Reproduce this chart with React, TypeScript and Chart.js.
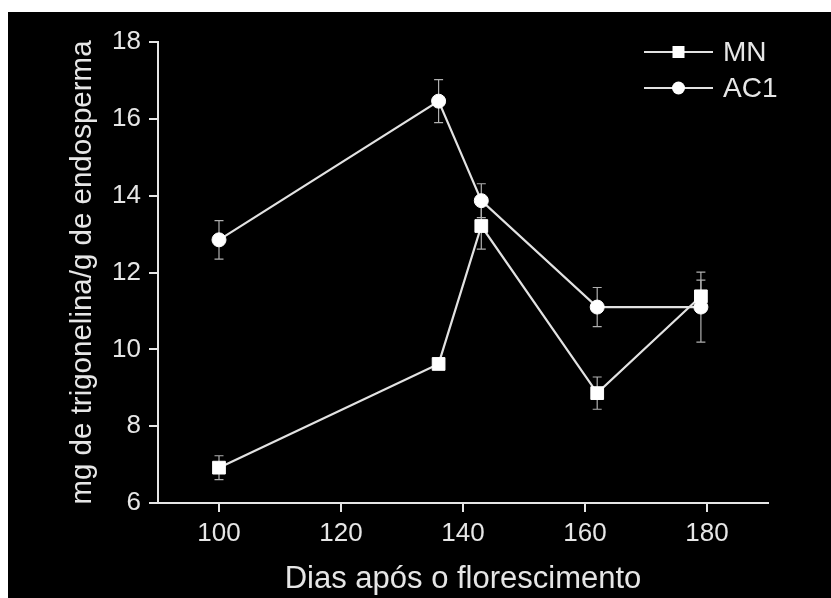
import React, { useEffect, useRef } from "react";
import { Chart, registerables } from "chart.js";

Chart.register(...registerables);

// ---- data ----
const days = [100, 136, 143, 162, 179];
const mnValues = [6.92, 9.62, 13.21, 8.86, 11.38];
const mnErrors = [0.31, 0.1, 0.6, 0.42, 0.42];
const ac1Values = [12.85, 16.46, 13.87, 11.1, 11.1];
const ac1Errors = [0.5, 0.56, 0.44, 0.51, 0.91];
const xTicks = [100, 120, 140, 160, 180];
const yTicks = [6, 8, 10, 12, 14, 16, 18];
const seriesNames = ["MN", "AC1"];
const xTitle = "Dias após o florescimento";
const yTitle = "mg de trigonelina/g de endosperma";

const FONT = "'Liberation Sans', Arial, sans-serif";
const FG = "#e6e6e6";
const LINE = "#e2e2e2";
const ERR = "#b0b0b0";

const errorsByDataset = [mnErrors, ac1Errors];
const valuesByDataset = [mnValues, ac1Values];

const customPlugin = {
  id: "custom",
  beforeDraw(chart: any) {
    const { ctx, width, height } = chart;
    ctx.save();
    ctx.fillStyle = "#000";
    ctx.fillRect(0, 0, width, height);
    ctx.restore();
  },
  beforeDatasetsDraw(chart: any) {
    const { ctx } = chart;
    const xs = chart.scales.x;
    const ys = chart.scales.y;
    ctx.save();
    ctx.strokeStyle = ERR;
    ctx.lineWidth = 1.2;
    const cap = 4.5;
    valuesByDataset.forEach((vals, di) => {
      const errs = errorsByDataset[di];
      vals.forEach((v, j) => {
        const x = xs.getPixelForValue(days[j]);
        const y1 = ys.getPixelForValue(v - errs[j]);
        const y2 = ys.getPixelForValue(v + errs[j]);
        ctx.beginPath();
        ctx.moveTo(x, y1);
        ctx.lineTo(x, y2);
        ctx.moveTo(x - cap, y1);
        ctx.lineTo(x + cap, y1);
        ctx.moveTo(x - cap, y2);
        ctx.lineTo(x + cap, y2);
        ctx.stroke();
      });
    });
    ctx.restore();
  },
  afterDraw(chart: any) {
    const { ctx, chartArea } = chart;
    const x0 = chartArea.right - 124;
    const x1 = chartArea.right - 55;
    const tx = chartArea.right - 45;
    const rows = [chartArea.top + 10, chartArea.top + 46];
    ctx.save();
    rows.forEach((y, i) => {
      ctx.strokeStyle = LINE;
      ctx.lineWidth = 2;
      ctx.beginPath();
      ctx.moveTo(x0, y);
      ctx.lineTo(x1, y);
      ctx.stroke();
      const cx = (x0 + x1) / 2;
      ctx.fillStyle = "#fff";
      ctx.beginPath();
      if (i === 0) {
        ctx.rect(cx - 6, y - 6, 12, 12);
      } else {
        ctx.arc(cx, y, 6.5, 0, Math.PI * 2);
      }
      ctx.fill();
      ctx.fillStyle = FG;
      ctx.font = `28px ${FONT}`;
      ctx.textAlign = "left";
      ctx.textBaseline = "middle";
      ctx.fillText(seriesNames[i], tx, y + 1);
    });
    ctx.restore();
  },
};

export default function App() {
  const ref = useRef<HTMLCanvasElement | null>(null);

  useEffect(() => {
    if (!ref.current) return;
    const chart = new Chart(ref.current, {
      type: "scatter",
      data: {
        datasets: [
          {
            label: seriesNames[0],
            data: days.map((d, i) => ({ x: d, y: mnValues[i] })),
            showLine: true,
            borderColor: LINE,
            borderWidth: 2.2,
            pointStyle: "rect",
            pointRadius: 9,
            pointBorderWidth: 1,
            pointBackgroundColor: "#fff",
            pointBorderColor: "#fff",
          },
          {
            label: seriesNames[1],
            data: days.map((d, i) => ({ x: d, y: ac1Values[i] })),
            showLine: true,
            borderColor: LINE,
            borderWidth: 2.2,
            pointStyle: "circle",
            pointRadius: 7,
            pointBorderWidth: 1,
            pointBackgroundColor: "#fff",
            pointBorderColor: "#fff",
          },
        ],
      },
      options: {
        animation: false,
        responsive: false,
        maintainAspectRatio: false,
        layout: { padding: { top: 30, right: 63, left: 0, bottom: 0 } },
        plugins: {
          legend: { display: false },
          tooltip: { enabled: false },
        },
        scales: {
          x: {
            type: "linear",
            min: 90,
            max: 190,
            afterBuildTicks: (s: any) => {
              s.ticks = xTicks.map((v) => ({ value: v }));
            },
            afterFit: (s: any) => {
              s.height = 95;
            },
            grid: {
              display: true,
              drawOnChartArea: false,
              drawTicks: true,
              tickLength: 9,
              color: FG,
              lineWidth: 2,
            },
            border: { display: true, color: FG, width: 2 },
            ticks: {
              color: FG,
              font: { family: FONT, size: 26 },
              padding: 6,
              maxRotation: 0,
              autoSkip: false,
            },
            title: {
              display: true,
              text: xTitle,
              color: FG,
              font: { family: FONT, size: 31 },
              padding: { top: 0, bottom: 0 },
            },
          },
          y: {
            type: "linear",
            min: 6,
            max: 18,
            afterBuildTicks: (s: any) => {
              s.ticks = yTicks.map((v) => ({ value: v }));
            },
            afterFit: (s: any) => {
              s.width = 150;
            },
            grid: {
              display: true,
              drawOnChartArea: false,
              drawTicks: true,
              tickLength: 9,
              color: FG,
              lineWidth: 2,
            },
            border: { display: true, color: FG, width: 2 },
            ticks: {
              color: FG,
              font: { family: FONT, size: 26 },
              padding: 8,
              autoSkip: false,
            },
            title: {
              display: true,
              text: yTitle,
              color: FG,
              font: { family: FONT, size: 29.5 },
              padding: { top: 57, bottom: 0 },
            },
          },
        },
      },
      plugins: [customPlugin],
    });
    return () => chart.destroy();
  }, []);

  return (
    <div style={{ position: "absolute", left: 8, top: 12, width: 823, height: 586 }}>
      <canvas ref={ref} width={823} height={586} style={{ display: "block", width: 823, height: 586 }} />
    </div>
  );
}
